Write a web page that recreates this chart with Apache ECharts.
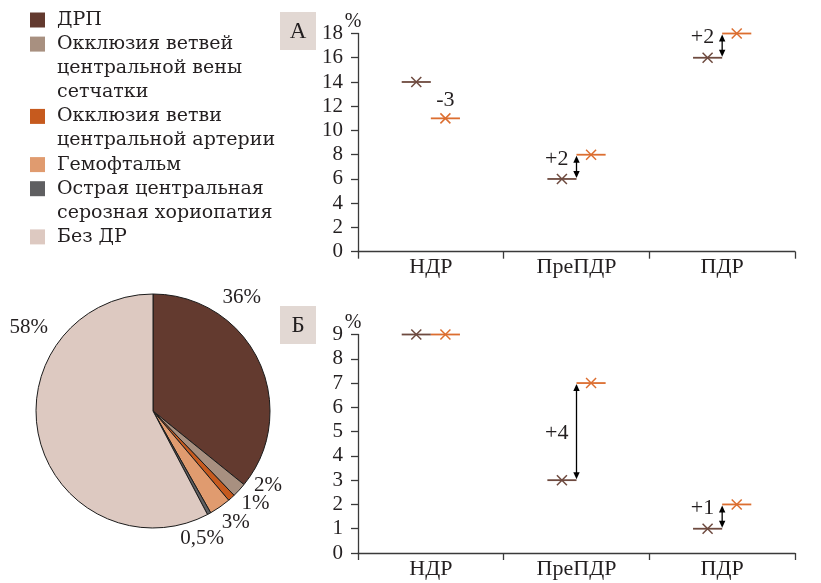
<!DOCTYPE html>
<html><head><meta charset="utf-8">
<script src="https://cdn.jsdelivr.net/npm/echarts@6/dist/echarts.min.js"></script>
<style>html,body{margin:0;padding:0;background:#fff}#c{width:821px;height:583px}</style>
</head><body><div id="c"></div>
<script>
// ---- data ----
const categories = ['НДР', 'ПреПДР', 'ПДР'];
const panelABefore = [14, 6, 16];
const panelAAfter = [11, 8, 18];
const panelADiff = ['-3', '+2', '+2'];
const panelBBefore = [9, 3, 1];
const panelBAfter = [9, 7, 2];
const panelBDiff = ['', '+4', '+1'];
const panelATicks = [0, 18, 2];   // min, max, step
const panelBTicks = [0, 9, 1];
const pieNames = ['ДРП', 'Окклюзия ветвей\nцентральной вены\nсетчатки', 'Окклюзия ветви\nцентральной артерии', 'Гемофтальм', 'Острая центральная\nсерозная хориопатия', 'Без ДР'];
const pieValues = [36, 2, 1, 3, 0.5, 58];
const pieLabels = ['36%', '2%', '1%', '3%', '0,5%', '58%'];
const pieColors = ['#633a2f', '#a89080', '#c65a1e', '#e09b6f', '#5f5f61', '#ddc9c1'];
const seriesColors = ['#6e4a3f', '#dc6e30'];
const panelLetters = ['А', 'Б'];

// ---- layout / styles ----
const FONT = '"Liberation Serif", "Times New Roman", serif';
const LEGEND_FONT = '19px "DejaVu Serif", serif';
const TXT = '#231f20';
const AXIS = '#3a3a3a';
const PIE_CENTER = [153, 411], PIE_R = 117;
const pieLabelAngles = [38, 123, 132, 143.5, 159, 304]; // label placement (deg, clockwise from top)
const pieLabelDist = [144, 137, 138, 139, 137, 150];

function dashRenderer(side, color) {
  return function (params, api) {
    const p = api.coord([api.value(0), api.value(1)]);
    const band = api.size([1, 0])[0];
    const w = band * 0.2;
    const x0 = side < 0 ? p[0] - w : p[0];
    const cx = x0 + w / 2, cy = p[1], h = 5;
    const st = { stroke: color, lineWidth: 1.5 };
    return { type: 'group', children: [
      { type: 'line', shape: { x1: x0, y1: cy, x2: x0 + w, y2: cy }, style: { stroke: color, lineWidth: 1.8 } },
      { type: 'line', shape: { x1: cx - h, y1: cy - h, x2: cx + h, y2: cy + h }, style: st },
      { type: 'line', shape: { x1: cx - h, y1: cy + h, x2: cx + h, y2: cy - h }, style: st }
    ]};
  };
}

function diffRenderer(diffs) {
  return function (params, api) {
    const txt = diffs[params.dataIndex];
    const ci = api.value(0), b = api.value(1), a = api.value(2);
    const pb = api.coord([ci, b]), pa = api.coord([ci, a]);
    const band = api.size([1, 0])[0];
    const children = [];
    const tstyle = (x, y, align) => ({ text: txt, x: x, y: y, align: align, verticalAlign: 'middle',
      fill: TXT, font: '22px ' + FONT });
    if (a > b) {
      const x = pb[0], yTop = pa[1] + 1, yBot = pb[1] - 1, ah = 7, aw = 3.2;
      children.push({ type: 'line', shape: { x1: x, y1: yTop + ah - 1, x2: x, y2: yBot - ah + 1 }, style: { stroke: '#000', lineWidth: 1.3 } });
      children.push({ type: 'polygon', shape: { points: [[x, yTop], [x - aw, yTop + ah], [x + aw, yTop + ah]] }, style: { fill: '#000' } });
      children.push({ type: 'polygon', shape: { points: [[x, yBot], [x - aw, yBot - ah], [x + aw, yBot - ah]] }, style: { fill: '#000' } });
      const len = yBot - yTop;
      const ty = len > 50 ? (yTop + yBot) / 2 + 2 : yTop + 3;
      children.push({ type: 'text', style: tstyle(x - 8, ty, 'right') });
    } else if (txt) {
      children.push({ type: 'text', style: tstyle(pa[0] + band * 0.1, pa[1] - 18, 'center') });
    }
    return { type: 'group', children: children };
  };
}

const grids = [
  { left: 358, right: 26, top: 33.5, height: 218.2, outerBoundsMode: 'none' },
  { left: 358, right: 26, top: 334.5, height: 218.5, outerBoundsMode: 'none' }
];

function xAxis(gi) {
  return { type: 'category', gridIndex: gi, data: categories, boundaryGap: true,
    axisLine: { show: true, lineStyle: { color: AXIS, width: 1.3 } },
    axisTick: { show: true, interval: 0, length: 7, lineStyle: { color: AXIS, width: 1.3 } },
    axisLabel: { interval: 0, margin: 5, color: TXT, fontFamily: FONT, fontSize: 22 },
    splitLine: { show: false } };
}
function yAxis(gi, t) {
  return { type: 'value', gridIndex: gi, min: t[0], max: t[1], interval: t[2],
    name: '%', nameLocation: 'end', nameGap: 2, nameMoveOverlap: false,
    nameTextStyle: { color: TXT, fontFamily: FONT, fontSize: 20, align: 'center', padding: [0, 10, 0, 0] },
    axisLine: { show: true, lineStyle: { color: AXIS, width: 1.3 } },
    axisTick: { show: true, length: 7, lineStyle: { color: AXIS, width: 1.3 } },
    axisLabel: { margin: 15, color: TXT, fontFamily: FONT, fontSize: 21 },
    splitLine: { show: false } };
}

function panelSeries(gi, before, after, diffs) {
  return [
    { type: 'custom', xAxisIndex: gi, yAxisIndex: gi, renderItem: dashRenderer(-1, seriesColors[0]),
      encode: { x: 0, y: 1 }, data: before.map((v, i) => [i, v]), silent: true },
    { type: 'custom', xAxisIndex: gi, yAxisIndex: gi, renderItem: dashRenderer(1, seriesColors[1]),
      encode: { x: 0, y: 1 }, data: after.map((v, i) => [i, v]), silent: true },
    { type: 'custom', xAxisIndex: gi, yAxisIndex: gi, renderItem: diffRenderer(diffs),
      encode: { x: 0, y: [1, 2] }, data: before.map((v, i) => [i, v, after[i]]), silent: true }
  ];
}

// legend built from the pie arrays
const legendEls = [];
let ly = 20;
pieNames.forEach((n, i) => {
  const lines = n.split('\n').length;
  legendEls.push({ type: 'rect', x: 30, y: ly - 7.5, shape: { x: 0, y: 0, width: 15, height: 15 }, style: { fill: pieColors[i] } });
  legendEls.push({ type: 'text', x: 57, y: ly - 12, style: { text: n, fill: TXT, font: LEGEND_FONT, lineHeight: 24, verticalAlign: 'top' } });
  ly += lines * 24.1;
});
const boxTops = [12, 306];
panelLetters.forEach((l, i) => {
  legendEls.push({ type: 'rect', x: 280, y: boxTops[i], shape: { x: 0, y: 0, width: 36, height: 38 }, style: { fill: '#e2d8d3' } });
  legendEls.push({ type: 'text', x: 298, y: boxTops[i] + 20, style: { text: l, fill: TXT, font: '23px ' + FONT, align: 'center', verticalAlign: 'middle' } });
});

const chart = echarts.init(document.getElementById('c'), null, { renderer: 'canvas' });
chart.setOption({
  animation: false,
  backgroundColor: '#fff',
  grid: grids,
  xAxis: [xAxis(0), xAxis(1)],
  yAxis: [yAxis(0, panelATicks), yAxis(1, panelBTicks)],
  graphic: legendEls.map(e => Object.assign({ silent: true }, e)),
  series: [
    ...panelSeries(0, panelABefore, panelAAfter, panelADiff),
    ...panelSeries(1, panelBBefore, panelBAfter, panelBDiff),
    { type: 'pie', center: PIE_CENTER, radius: PIE_R, startAngle: 90, clockwise: true,
      silent: true, avoidLabelOverlap: false,
      data: pieNames.map((n, i) => ({ name: n, value: pieValues[i], itemStyle: { color: pieColors[i] } })),
      itemStyle: { borderColor: '#1b1b1b', borderWidth: 1 },
      label: { show: true, position: 'inside', formatter: p => pieLabels[p.dataIndex],
        fontFamily: FONT, fontSize: 21, color: TXT },
      labelLine: { show: false },
      labelLayout: function (p) {
        const i = p.dataIndex, a = pieLabelAngles[i] * Math.PI / 180, d = pieLabelDist[i];
        return { x: PIE_CENTER[0] + d * Math.sin(a), y: PIE_CENTER[1] - d * Math.cos(a), align: 'center', verticalAlign: 'middle' };
      },
      emphasis: { disabled: true } }
  ]
});
</script></body></html>
